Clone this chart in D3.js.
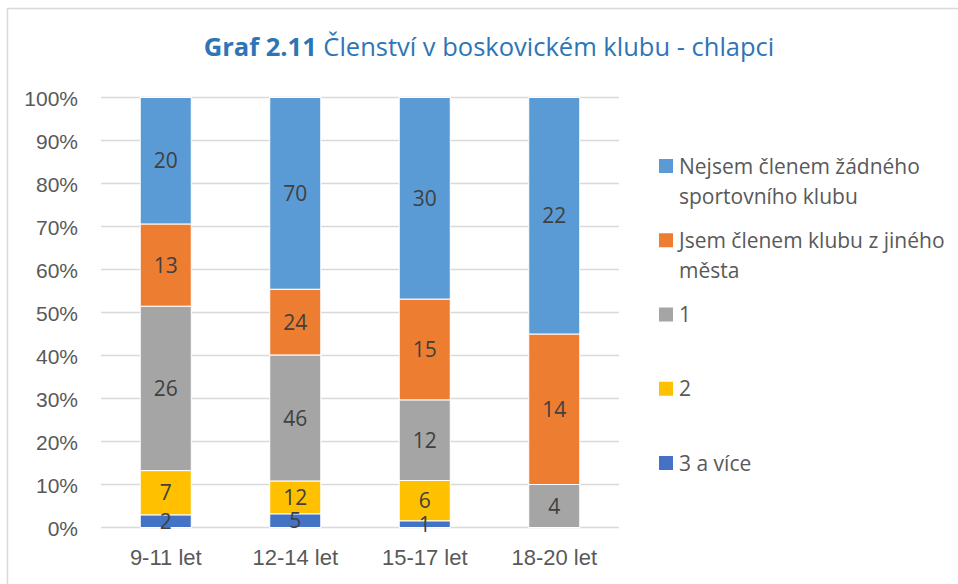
<!DOCTYPE html>
<html>
<head>
<meta charset="utf-8">
<script src="https://cdn.jsdelivr.net/npm/d3@7"></script>
<style>
  body { margin: 0; background: #fff; }
  svg { display: block; font-family: "Open Sans", sans-serif; }
</style>
</head>
<body>
<div id="chart"></div>
<script>
var categories = ['9-11 let', '12-14 let', '15-17 let', '18-20 let'];
// series from bottom of stack to top
var seriesNames = ['3 a více', '2', '1', 'Jsem členem klubu z jiného města', 'Nejsem členem žádného sportovního klubu'];
var seriesColors = ['#4472C4', '#FFC000', '#A5A5A5', '#ED7D31', '#5B9BD5'];
var values3 = [2, 5, 1, 0];
var values2 = [7, 12, 6, 0];
var values1 = [26, 46, 12, 4];
var valuesOther = [13, 24, 15, 14];
var valuesNone = [20, 70, 30, 22];
var yTicks = [0, 0.1, 0.2, 0.3, 0.4, 0.5, 0.6, 0.7, 0.8, 0.9, 1];

var w = 958, h = 584;
var margin = {top: 97.5, right: 339, bottom: 56.5, left: 101};

var allSeries = [values3, values2, values1, valuesOther, valuesNone];
var table = categories.map(function(c, i){
    var row = {cat: c};
    seriesNames.forEach(function(s, k){ row[s] = allSeries[k][i]; });
    return row;
});

var svg = d3.select('#chart').append('svg')
    .attr('width', w)
    .attr('height', h);

// chart frame (only top and left edges visible in the crop)
svg.append('rect')
    .attr('x', 7.5).attr('y', 8.5)
    .attr('width', w + 10).attr('height', h + 10)
    .attr('fill', 'none')
    .attr('stroke', '#d9d9d9')
    .attr('stroke-width', 1.5);

var x = d3.scaleBand()
    .domain(categories)
    .range([margin.left, w - margin.right])
    .paddingInner(0.606)
    .paddingOuter(0.303);

var y = d3.scaleLinear()
    .domain([0, 1])
    .range([h - margin.bottom, margin.top]);

// gridlines
svg.append('g').selectAll('line')
    .data(yTicks)
    .join('line')
    .attr('x1', margin.left)
    .attr('x2', w - margin.right)
    .attr('y1', function(d){ return y(d); })
    .attr('y2', function(d){ return y(d); })
    .attr('stroke', '#d9d9d9')
    .attr('stroke-width', 1.3);

// y axis
var yAxis = svg.append('g')
    .attr('transform', 'translate(' + (margin.left - 23) + ',0)')
    .call(d3.axisLeft(y).tickValues(yTicks).tickFormat(d3.format('.0%')).tickSize(0).tickPadding(0));
yAxis.select('.domain').remove();
yAxis.selectAll('text')
    .attr('fill', '#595959')
    .style('font-size', '21px')
    .attr('dy', '0.36em');

// x axis
var xAxis = svg.append('g')
    .attr('transform', 'translate(0,' + (h - margin.bottom) + ')')
    .call(d3.axisBottom(x).tickSize(0).tickPadding(0));
xAxis.select('.domain').remove();
xAxis.selectAll('text')
    .attr('fill', '#595959')
    .style('font-size', '22px')
    .attr('y', 30)
    .attr('dy', '0.36em');

var stack = d3.stack().keys(seriesNames).offset(d3.stackOffsetExpand);
var stacked = stack(table);

var layers = svg.append('g').selectAll('g')
    .data(stacked)
    .join('g')
    .attr('fill', function(d, i){ return seriesColors[i]; });

layers.selectAll('rect')
    .data(function(d){ return d.filter(function(p){ return p[1] > p[0]; }); })
    .join('rect')
    .attr('x', function(d){ return x(d.data.cat); })
    .attr('width', x.bandwidth())
    .attr('y', function(d){ return y(d[1]); })
    .attr('height', function(d){ return y(d[0]) - y(d[1]); })
    .attr('stroke', '#fff')
    .attr('stroke-width', 1);

// data labels
var labels = svg.append('g');
stacked.forEach(function(layer){
    layer.forEach(function(p){
        var v = p.data[layer.key];
        if (!v) return;
        labels.append('text')
            .attr('x', x(p.data.cat) + x.bandwidth() / 2)
            .attr('y', y((p[0] + p[1]) / 2))
            .attr('dy', '0.36em')
            .attr('text-anchor', 'middle')
            .attr('fill', '#404040')
            .style('font-size', '21px')
            .text(v);
    });
});

// title
var title = svg.append('text')
    .attr('x', 489)
    .attr('y', 56)
    .attr('text-anchor', 'middle')
    .attr('fill', '#2E75B6')
    .style('font-size', '25.5px');
title.append('tspan').attr('font-weight', 'bold').text('Graf 2.11');
title.append('tspan').text(' Členství v boskovickém klubu - chlapci');

// legend, top entry is the top of the stack
var legendX = 659, legendTop = 166, legendStep = 74.25, lineH = 30, maxW = 280;
var legendOrder = seriesNames.map(function(s, i){ return i; }).reverse();
legendOrder.forEach(function(k, j){
    var cy = legendTop + j * legendStep;
    svg.append('rect')
        .attr('x', legendX)
        .attr('y', cy - 7)
        .attr('width', 14)
        .attr('height', 14)
        .attr('fill', seriesColors[k]);
    var t = svg.append('text')
        .attr('fill', '#595959')
        .style('font-size', '21px');
    var words = seriesNames[k].split(' ');
    var line = [];
    var lineNo = 0;
    var ts = t.append('tspan').attr('x', legendX + 20).attr('y', cy).attr('dy', '0.36em');
    words.forEach(function(wd){
        line.push(wd);
        ts.text(line.join(' '));
        if (ts.node().getComputedTextLength() > maxW && line.length > 1) {
            line.pop();
            ts.text(line.join(' '));
            line = [wd];
            lineNo++;
            ts = t.append('tspan').attr('x', legendX + 20)
                .attr('y', cy + lineNo * lineH).attr('dy', '0.36em').text(wd);
        }
    });
});
</script>
</body>
</html>
